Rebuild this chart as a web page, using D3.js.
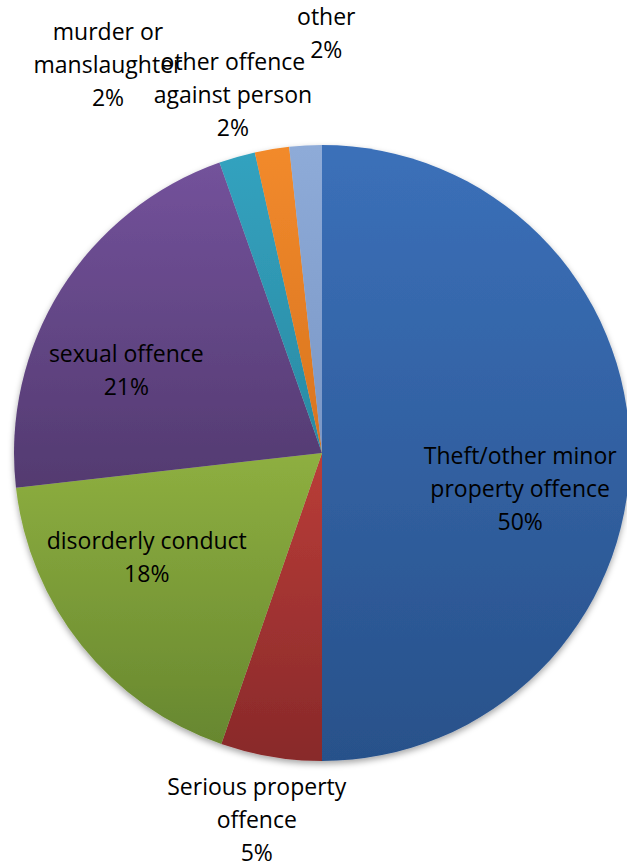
<!DOCTYPE html>
<html>
<head>
<meta charset="utf-8">
<script src="https://cdn.jsdelivr.net/npm/d3@7"></script>
<style>
  body { margin: 0; background: #fff; }
  text { font-family: "Open Sans", "Noto Sans", sans-serif; fill: #000; }
</style>
</head>
<body>
<div id="chart"></div>
<script>
var categories = ["Theft/other minor\nproperty offence", "Serious property\noffence", "disorderly conduct",
                  "sexual offence", "murder or\nmanslaughter", "other offence\nagainst person", "other"];
var values = [50, 5.3, 17.9, 21.4, 1.9, 1.8, 1.7];
var pctLabels = ["50%", "5%", "18%", "21%", "2%", "2%", "2%"];
var topColors = ["#3b70b9", "#ba3d38", "#8eaf40", "#73529b", "#33a2bf", "#f28a2c", "#8eabd8"];
var bottomColors = ["#28518a", "#88292a", "#67872f", "#533a70", "#2a8aa3", "#d8741f", "#7a97c6"];

var width = 627, height = 865;
var cx = 322, cy = 453, radius = 308;

// inside / outside placement, and small nudges like Excel's best fit
var outside = [false, true, false, false, true, true, true];
var nudge = [[-2, 36], [-4, 2], [-19, -21], [-26, 24], [-112, -33], [-29, 7], [24, -50]];

var svg = d3.select("#chart").append("svg")
    .attr("width", width)
    .attr("height", height);

var defs = svg.append("defs");
var shadow = defs.append("filter").attr("id", "shadow")
    .attr("x", "-10%").attr("y", "-10%").attr("width", "120%").attr("height", "120%");
shadow.append("feDropShadow")
    .attr("dx", 0).attr("dy", 3).attr("stdDeviation", 3)
    .attr("flood-color", "#000").attr("flood-opacity", 0.35);

values.forEach(function(v, i) {
    var g = defs.append("linearGradient").attr("id", "grad" + i)
        .attr("x1", 0).attr("y1", 0).attr("x2", 0).attr("y2", 1);
    g.append("stop").attr("offset", "0%").attr("stop-color", topColors[i]);
    g.append("stop").attr("offset", "100%").attr("stop-color", bottomColors[i]);
});

var pie = d3.pie().sort(null).value(function(d) { return d; });
var arcs = pie(values);

var arc = d3.arc().innerRadius(0).outerRadius(radius);
var inArc = d3.arc().innerRadius(radius * 0.65).outerRadius(radius * 0.65);
var outArc = d3.arc().innerRadius(radius * 1.2).outerRadius(radius * 1.2);

var g = svg.append("g").attr("transform", "translate(" + cx + "," + cy + ")");

g.append("g").attr("filter", "url(#shadow)")
    .selectAll("path")
    .data(arcs)
    .enter().append("path")
    .attr("d", arc)
    .attr("fill", function(d, i) { return "url(#grad" + i + ")"; });

var lineH = 33;
arcs.forEach(function(d, i) {
    var c = outside[i] ? outArc.centroid(d) : inArc.centroid(d);
    var x = c[0] + nudge[i][0], y = c[1] + nudge[i][1];
    var lines = categories[i].split("\n").concat([pctLabels[i]]);
    var t = g.append("text")
        .attr("text-anchor", "middle")
        .attr("font-size", 23);
    lines.forEach(function(l, k) {
        t.append("tspan")
            .attr("x", x)
            .attr("y", y + (k - (lines.length - 1) / 2) * lineH)
            .attr("dy", "0.35em")
            .text(l);
    });
});
</script>
</body>
</html>
